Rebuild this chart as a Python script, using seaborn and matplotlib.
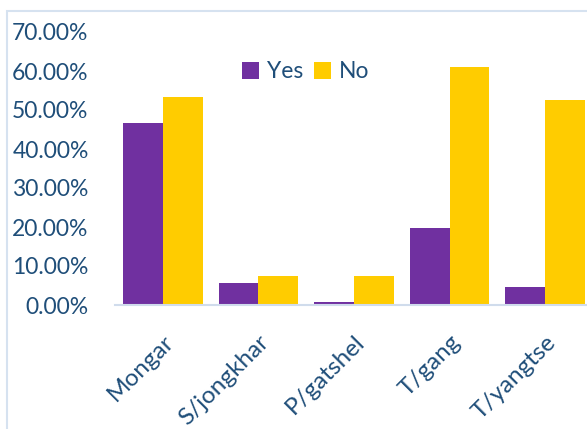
import matplotlib
matplotlib.use("Agg")
import matplotlib.pyplot as plt
from matplotlib.patches import Rectangle
from matplotlib.ticker import FuncFormatter
import seaborn as sns
import pandas as pd

districts = ["Mongar", "S/jongkhar", "P/gatshel", "T/gang", "T/yangtse"]
yes_share = [46.7, 5.6, 0.8, 19.7, 4.6]
no_share = [53.3, 7.4, 7.4, 61.0, 52.6]
tick_values = [0, 10, 20, 30, 40, 50, 60, 70]

df = pd.DataFrame({
    "District": districts * 2,
    "Answer": ["Yes"] * len(districts) + ["No"] * len(districts),
    "Share": yes_share + no_share,
})

sns.set_theme(style="white")
plt.rcParams["font.family"] = ["Lato", "DejaVu Sans"]

W, H = 587, 429
fig = plt.figure(figsize=(W / 100, H / 100), dpi=100)
left_px, right_px = 115, 587
top_px, bottom_px = 32, 305
ax = fig.add_axes([left_px / W, 1 - bottom_px / H,
                   (right_px - left_px) / W, (bottom_px - top_px) / H])

palette = {"Yes": "#7030A0", "No": "#FFCC00"}
sns.barplot(data=df, x="District", y="Share", hue="Answer", palette=palette,
            width=0.833, saturation=1, linewidth=0, ax=ax, legend=True)

text_color = "#1F4E79"
ax.set_xlim(-0.5, 4.5 - 6 / 96)
ax.set_ylim(0, 70)
ax.set_yticks(tick_values)
ax.yaxis.set_major_formatter(FuncFormatter(lambda v, p: f"{v:.2f}%"))
ax.tick_params(axis="y", labelsize=16.5, colors=text_color, length=0, pad=19)
ax.tick_params(axis="x", labelsize=17.5, colors=text_color, length=0, pad=19)
for lbl in ax.get_xticklabels():
    lbl.set_rotation(45)
    lbl.set_ha("right")
    lbl.set_rotation_mode("anchor")
ax.set_xlabel("")
ax.set_ylabel("")
for side in ["top", "right", "left"]:
    ax.spines[side].set_visible(False)
ax.spines["bottom"].set_color("#D0DCEC")
ax.spines["bottom"].set_linewidth(1.5)
ax.patch.set_alpha(0)

leg = ax.legend(loc="upper left", bbox_to_anchor=((233 - left_px) / (right_px - left_px), 1 - (52 - top_px) / (bottom_px - top_px)),
                ncol=2, frameon=False, fontsize=16.5, handlelength=0.75, handleheight=0.75,
                handletextpad=0.35, columnspacing=0.45, borderaxespad=0)
for t in leg.get_texts():
    t.set_color(text_color)

# chart frame
fig.patches.append(Rectangle((7 / W, -0.1), 1.2, 1 - 11 / H + 0.1,
                             transform=fig.transFigure, fill=False,
                             edgecolor="#D6E2F0", linewidth=1.5))

fig.savefig("out.png", dpi=100)
